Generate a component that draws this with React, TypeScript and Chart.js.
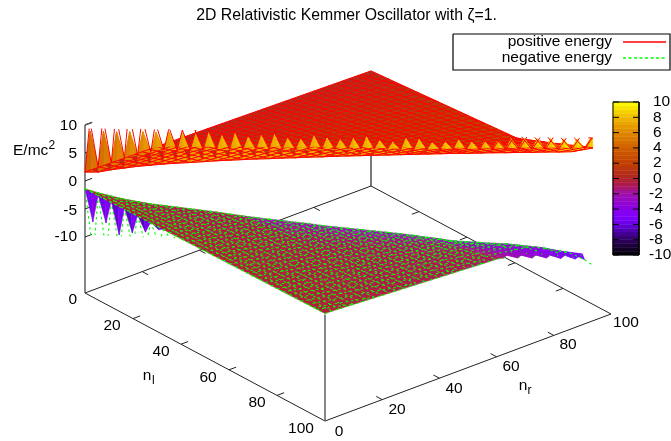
import React, { useEffect, useRef } from "react";
import { Chart, registerables } from "chart.js";

Chart.register(...registerables);

// Grid positions along the n_l = n_r diagonal
const nGrid = [0,2.5,5,7.5,10,12.5,15,17.5,20,22.5,25,27.5,30,32.5,35,37.5,40,42.5,45,47.5,50,52.5,55,57.5,60,62.5,65,67.5,70,72.5,75,77.5,80,82.5,85,87.5,90,92.5,95,96.5];

// Positive-energy sheet
const posFront = [1.6,1.7,2.2,2.6,3.0,3.3,3.6,3.85,4.05,4.3,4.55,4.75,4.95,5.15,5.3,5.5,5.65,5.85,6.0,6.2,6.35,6.5,6.65,6.8,6.95,7.1,7.25,7.4,7.55,7.65,7.8,7.95,8.05,8.2,8.3,8.45,8.55,8.7,9.25,11.3];
const posValley = [1.6,2.6,3.4,4.4,5.0,5.6,6.1,6.2,6.3,6.4,6.5,6.6,6.7,6.8,6.9,7.0,7.1,7.2,7.3,7.4,7.5,7.6,7.7,7.8,7.8,7.9,8.0,8.1,8.2,8.3,8.4,8.5,8.6,8.7,8.8,8.9,9.0,9.1,9.4,11.3];
const posLeft = [1.6,1.57,1.55,1.52,1.49,1.47,1.44,1.41,1.39,1.36,1.33,1.31,1.28,1.25,1.23,1.2,1.17,1.15,1.12,1.09,1.07,1.04,1.01,0.99,0.96,0.93,0.91,0.88,0.85,0.83,0.8,0.77,0.75,0.72,0.69,0.67,0.64,0.61,0.59,0.57];
const posBack: (number | null)[] = [0.54,0.62,0.7,0.78,0.85,0.93,1.01,1.09,1.17,1.25,1.33,1.4,1.48,1.56,1.64,1.72,1.8,1.87,1.95,2.03,2.11,2.19,2.27,2.35,2.4,2.68,3.16,3.55,4.04,4.43,4.82,5.3,5.79,6.18,6.66,7.14,7.54,7.93,null,null];
const posCutK = [37,38,39];
const posCutNl = [56,34.3,18.3];
const posCutZ = [5.48,3.8,2.57];
const posTip = [9.4,9.5,9.5,9.6,9.7,9.7,9.8,9.8,9.9,10.0,9.6,10.1,9.5,9.9,10.2,9.6,9.5,10.2,9.9,9.7,10.0,10.4,9.8,9.6,10.4,10.3,9.8,10.0,10.5,10.2,10.3,10.4,10.8,11.0,11.0,11.1,11.1,11.2,11.3];
const posTipDrop = [0.5,0.5,0.5,0.5,0.5,0.5,0.5,0.5,0.5,0.5,0.5,0.5,0.5,0.5,0.5,0.5,0.5,0.5,0.5,0.5,0.5,0.5,0.5,0.5,0.5,0.5,0.5,0.5,0.5,0.5,0.2,0.2,0.2,0.2,0.2,0.2,0.2,0.2,0.2];
const posTone = [5,5.4,5.8,6.2,6.6,7,7.4,7.7,7.9,8,8,8,8,8,8,8,8.1,8.1,8.1,8.1,8.2,8.2,8.2,8.2,8.3,8.3,8.3,8.4,8.4,8.4,8.5,8.5,8.6,8.7,8.8,8.9,9,9,9];
const posArmShift = [-0.2,-0.3,-0.4,-0.5,-0.4,-0.3,-0.1,0,0.1,0,0,0,0,0,0,0,0,0,0,0,0,0,0,0,0,0,0,0,0,0,0.2,0.3,0.5,0.5,0.5,0.5,0.5,0.5,0.3];

// Negative-energy sheet
const negDiag = [-1.4,-2.0,-2.5,-2.95,-3.3,-3.6,-3.8,-4.0,-4.2,-4.4,-4.6,-4.85,-5.1,-5.3,-5.5,-5.65,-5.85,-6.0,-6.25,-6.4,-6.55,-6.7,-6.85,-7.0,-7.15,-7.35,-7.6,-7.8,-8.05,-8.1,-8.15,-8.2,-8.2,-8.35,-8.5,-8.7,-9.1,-9.5,-10.5,-11.4];
const negValley = [-1.4,-2.4,-3.4,-4.5,-5.7,-6.85,-8.0,-8.45,-8.36,-8.26,-8.2];
const negBottom = [-1.43,-1.42,-1.4,-1.39,-1.37,-1.36,-1.34,-1.33,-1.32,-1.3,-1.29,-1.27,-1.26,-1.24,-1.23,-1.22,-1.2,-1.19,-1.17,-1.16,-1.14,-1.13,-1.12,-1.1,-1.09,-1.07,-1.06,-1.05,-1.03,-1.02,-1.0,-0.99,-0.97,-0.96,-0.95,-0.93,-0.92,-0.9,-0.89,-0.88];
const negRight: (number | null)[] = [-0.8,-0.85,-0.93,-1.0,-1.08,-1.15,-1.23,-1.3,-1.38,-1.45,-1.53,-1.6,-1.68,-1.75,-1.83,-1.9,-1.98,-2.05,-2.13,-2.2,-2.28,-2.35,-2.43,-2.5,-2.55,-2.84,-2.15,-3.79,-3.2,-4.75,-4.15,-5.7,-5.2,-6.75,-6.24,-7.8,-7.38,null,null,null];
const negCutK = [35,36,37,38,39];
const negCutNr = [66.4,53.8,37,21.3,12.7];
const negCutZ = [-6.79,-5.6,-4.32,-3.07,-2.34];
const negSpikeK = [0,1,2,3,4,5,6];
const negSpikeN = [1.5,4,6.5,9,11.5,14,16.5];
const negSpikeZ = [-7.27,-7.36,-9.4,-8.95,-8.7,-8.2,-8.6];
const negSpikeTone = [-4,-4.6,-5,-5.2,-5.4,-5.4,-5.4];
const negArmK = [0,1,2,3,4,5,6,7,8,9];
const negArmZ = [-9.6,-9.6,-9.6,-9.6,-9.6,-9.6,-9.6,-9.6,-9.6,-9.6];
const negShadeT = [0,0.12,0.25,0.4,0.6,0.8,1];

// Axis and colour-bar labels
const zTicks = [10,5,0,-5,-10];
const nlTicks = [20,40,60,80];
const nrTicks = [20,40,60,80];
const cbTicks = [10,8,6,4,2,0,-2,-4,-6,-8,-10];
const cbLevels = [-10,-9.5,-9,-8.5,-8,-7.5,-7,-6.5,-6,-5.5,-5,-4.5,-4,-3.5,-3,-2.5,-2,-1.5,-1,-0.5,0,0.5,1,1.5,2,2.5,3,3.5,4,4.5,5,5.5,6,6.5,7,7.5,8,8.5,9,9.5];
const palZ = [-10,-8,-7,-6,-5,-4,-2,-1,0,2,4,6,8,10];
const palRGB = [[0,0,0],[48,0,96],[72,0,160],[104,0,224],[128,0,255],[136,0,232],[160,16,176],[172,24,90],[176,36,40],[192,64,0],[208,96,0],[224,136,0],[240,184,0],[255,255,0]];

const FONT = '15.5px "Liberation Sans"';
const TITLE = '15.8px "Liberation Sans"';
const SUP = '12px "Liberation Sans"';

const palette = (z: number) => {
  const v = Math.max(-10, Math.min(10, z));
  let i = 0;
  while (i < palZ.length - 2 && v > palZ[i + 1]) i++;
  const t = (v - palZ[i]) / (palZ[i + 1] - palZ[i]);
  const c = palRGB[i].map((a, j) => Math.round(a + (palRGB[i + 1][j] - a) * t));
  return `rgb(${c[0]},${c[1]},${c[2]})`;
};

// gnuplot-style view of (n_l, n_r, E) on the page
const P = (nl: number, nr: number, z: number) => ({
  x: 85 + 2.4 * nl + 2.86 * nr,
  y: 293 + 1.28 * nl - 1.07 * nr - 5.6 * (z + 20),
});
const cbY = (v: number) => 178.5 - 7.65 * v;
const toward = (a: any, b: any, t: number) => ({ x: a.x + (b.x - a.x) * t, y: a.y + (b.y - a.y) * t });

function buildDatasets() {
  const ds: any[] = [];
  const line = (data: any[], color: string, width = 1, dash: number[] = []) =>
    ds.push({ data, showLine: true, fill: false, borderColor: color, borderWidth: width, borderDash: dash, pointRadius: 0, tension: 0 });
  const poly = (data: any[], color: string) =>
    ds.push({ data: [...data, data[0]], showLine: true, fill: "shape", backgroundColor: color, borderColor: color, borderWidth: 0.5, pointRadius: 0, tension: 0 });

  const AX = "#222222";
  const WALL = "#555555";
  // base frame and verticals
  line([P(0, 0, -20), P(0, 100, -20), P(100, 100, -20), P(100, 0, -20), P(0, 0, -20)], AX);
  line([P(0, 0, -20), P(0, 0, 10)], WALL, 1.4);
  line([P(100, 0, -20), P(100, 0, -1)], WALL, 1.4);
  line([P(0, 100, -20), P(0, 100, 0)], AX, 1.2);
  zTicks.forEach((z) => line([P(0, 0, z), P(0, 2.5, z)], AX));
  line([P(0, 0, 10), P(0, 2.5, 10)], WALL, 1.4);
  nlTicks.forEach((v) => {
    line([P(v, 0, -20), P(v, 2.5, -20)], AX);
    line([P(v, 100, -20), P(v, 97.5, -20)], AX);
  });
  nrTicks.forEach((v) => {
    line([P(100, v, -20), P(97.5, v, -20)], AX);
    line([P(0, v, -20), P(2.5, v, -20)], AX);
  });

  // positive surface
  const F = (k: number) => P(nGrid[k], nGrid[k], posFront[k]);
  const V = (k: number) => P(nGrid[k], nGrid[k], posValley[k]);
  const B = (k: number) => P(nGrid[k], 100, posBack[k] as number);
  const A = (k: number) => P(nGrid[k] + 1, nGrid[k] + 1, posTip[k] - posTipDrop[k]);
  posTip.forEach((_, k) => {
    poly([V(k), A(k), F(k)], palette(posTone[k] - 0.6));
    poly([F(k + 1), A(k), V(k + 1)], palette(posTone[k]));
  });
  for (let k = 0; k < 37; k++) poly([F(k), B(k), B(k + 1), F(k + 1)], palette(posBack[k] as number));
  poly([F(37), B(37), F(39), F(38)], palette(8.5));
  // lower body of each tooth shows through the mesh
  posTip.forEach((_, k) => {
    const mid = toward(V(k), V(k + 1), 0.5);
    poly([F(k), V(k), mid, F(k + 1)], palette(posTone[k] - 0.5));
    poly([V(k), A(k), mid], palette(posTone[k] - 0.6));
    poly([mid, A(k), V(k + 1)], palette(posTone[k]));
  });
  const RED = "#ff0000";
  const RW = 1;
  nGrid.forEach((n, k) => {
    if (posBack[k] !== null) line([F(k), B(k)], RED, RW);
    const c = posCutK.indexOf(k);
    const end = c >= 0 ? P(posCutNl[c], n, posCutZ[c]) : F(k);
    line([P(0, n, posLeft[k]), end], RED, RW);
  });
  line(nGrid.map((_, k) => k).filter((k) => posBack[k] !== null).map(B), RED, RW);
  line(nGrid.map((_, k) => F(k)), RED, RW);
  // upper part of every tooth sits in front of the mesh
  posTip.forEach((_, k) => {
    const mid = toward(V(k), V(k + 1), 0.5);
    poly([toward(A(k), V(k), 0.8), A(k), toward(A(k), mid, 0.8)], palette(posTone[k] - 0.6));
    poly([toward(A(k), mid, 0.8), A(k), toward(A(k), V(k + 1), 0.8)], palette(posTone[k]));
  });
  posTip.forEach((tip, k) => {
    const n = nGrid[k] + 1;
    const s = posArmShift[k];
    const w = k < 9 || k > 29 ? RW : 0.7;
    line([V(k), P(n + s, n + s, tip)], RED, w);
    line([V(k + 1), P(n - s, n - s, tip)], RED, w);
  });

  // negative surface
  const GREEN = "#00ff00";
  const D = (k: number) => P(nGrid[k], nGrid[k], negDiag[k]);
  const W = (k: number) => P(nGrid[k], nGrid[k], negValley[k]);
  const E = (k: number) => P(100, nGrid[k], negRight[k] as number);
  const dash = [2.5, 3];
  const GW = 1.1;
  negArmK.forEach((k, i) => {
    const n = nGrid[k] + 1.5;
    line([W(k), P(n - 0.4, n - 0.4, negArmZ[i])], GREEN, GW, dash);
    line([W(k + 1), P(n + 0.4, n + 0.4, negArmZ[i])], GREEN, GW, dash);
  });
  negSpikeK.forEach((k, i) => {
    const apex = P(negSpikeN[i], negSpikeN[i], negSpikeZ[i]);
    const mid = toward(W(k), W(k + 1), 0.5);
    poly([W(k), apex, mid], palette(negSpikeTone[i] - 1.2));
    poly([mid, apex, W(k + 1)], palette(negSpikeTone[i]));
  });
  for (let k = 0; k < 36; k++) {
    const zr = ((negRight[k] as number) + (negRight[k + 1] as number)) / 2;
    const toneE = zr * (k < 25 ? 0.4 : 0.65);
    const toneD = negDiag[k] * (k < 12 ? 0.2 : 0.38);
    for (let s = 0; s < negShadeT.length - 1; s++) {
      const t0 = negShadeT[s];
      const t1 = negShadeT[s + 1];
      const tm = (t0 + t1) / 2;
      const tone = toneE + (toneD - toneE) * Math.pow(1 - tm, 3);
      poly([toward(D(k), E(k), t0), toward(D(k), E(k), t1), toward(D(k + 1), E(k + 1), t1), toward(D(k + 1), E(k + 1), t0)], palette(tone));
    }
  }
  poly([D(36), E(36), D(38), D(37)], palette(-5));
  nGrid.forEach((n, k) => {
    const c = negCutK.indexOf(k);
    const end = c >= 0 ? P(n, negCutNr[c], negCutZ[c]) : D(k);
    line([P(n, 0, negBottom[k]), end], GREEN, GW, dash);
    if (negRight[k] !== null) line([D(k), k < 25 ? E(k) : toward(D(k), E(k), 0.45)], GREEN, GW, dash);
  });
  line(nGrid.map((_, k) => k).filter((k) => k <= 25).map(E), GREEN, GW, dash);
  line(nGrid.map((_, k) => k).filter((k) => k >= 25 && k <= 36).map(E), GREEN, GW, [1, 9]);
  line(nGrid.map((_, k) => D(k)), GREEN, GW, dash);

  // legend box
  line([{ x: 453, y: 34 }, { x: 670, y: 34 }, { x: 670, y: 70 }, { x: 453, y: 70 }, { x: 453, y: 34 }], "#000000", 1.2);
  line([{ x: 623, y: 42 }, { x: 666, y: 42 }], RED, 1.3);
  line([{ x: 623, y: 58 }, { x: 666, y: 58 }], GREEN, 1.3, [3, 2.5]);

  // colour bar
  cbLevels.forEach((v) =>
    poly([{ x: 613, y: cbY(v) }, { x: 639, y: cbY(v) }, { x: 639, y: cbY(v + 0.5) }, { x: 613, y: cbY(v + 0.5) }], palette(v + 0.25))
  );
  line([{ x: 613, y: cbY(10) }, { x: 639, y: cbY(10) }, { x: 639, y: cbY(-10) }, { x: 613, y: cbY(-10) }, { x: 613, y: cbY(10) }], "#000000", 1);
  cbTicks.forEach((v) => {
    line([{ x: 613, y: cbY(v) }, { x: 619, y: cbY(v) }], "#000000");
    line([{ x: 633, y: cbY(v) }, { x: 639, y: cbY(v) }], "#000000");
  });
  return ds.reverse();
}

const textPlugin = {
  id: "plotText",
  afterDraw(chart: any) {
    const c = chart.ctx as CanvasRenderingContext2D;
    const put = (s: string, x: number, y: number, align: CanvasTextAlign = "center", font = FONT) => {
      c.font = font;
      c.textAlign = align;
      c.textBaseline = "middle";
      c.fillStyle = "#000000";
      c.fillText(s, x, y);
    };
    c.save();
    put("2D Relativistic Kemmer Oscillator with ζ=1.", 346.5, 15.5, "center", TITLE);
    put("positive energy", 612, 42, "right");
    put("negative energy", 612, 58, "right");
    zTicks.forEach((z, i) => put(String(z), 77, [126, 154, 182, 211, 237][i], "right"));
    put("0", 77, 300, "right");
    put("E/mc", 13, 151, "left");
    put("2", 48.5, 146, "left", SUP);
    nlTicks.forEach((v, i) => put(String(v), [112, 161, 208, 257][i], [326, 352, 378, 403][i]));
    put("100", 301, 429);
    nrTicks.forEach((v, i) => put(String(v), [397, 454, 511, 568][i], [410, 389, 367, 345][i]));
    put("0", 339, 432);
    put("100", 626, 323);
    put("n", 147, 376);
    put("l", 152, 381, "left", SUP);
    put("n", 523, 386);
    put("r", 527.5, 391, "left", SUP);
    cbTicks.forEach((v) => put(String(v), v < 0 ? 649 : 653, cbY(v), "left"));
    c.restore();
  },
};

export default function App() {
  const ref = useRef<HTMLCanvasElement>(null);
  useEffect(() => {
    const chart = new Chart(ref.current as HTMLCanvasElement, {
      type: "scatter",
      data: { datasets: buildDatasets() },
      plugins: [textPlugin],
      options: {
        responsive: false,
        animation: false,
        events: [],
        layout: { padding: 0 },
        plugins: { legend: { display: false }, tooltip: { enabled: false }, title: { display: false } },
        scales: {
          x: { type: "linear", display: false, min: 0, max: 671 },
          y: { type: "linear", display: false, min: 0, max: 441, reverse: true },
        },
      },
    } as any);
    return () => chart.destroy();
  }, []);
  return (
    <div style={{ position: "absolute", left: 0, top: 0, width: 671, height: 441, background: "#fff" }}>
      <canvas ref={ref} width={671} height={441} style={{ display: "block" }} />
    </div>
  );
}
